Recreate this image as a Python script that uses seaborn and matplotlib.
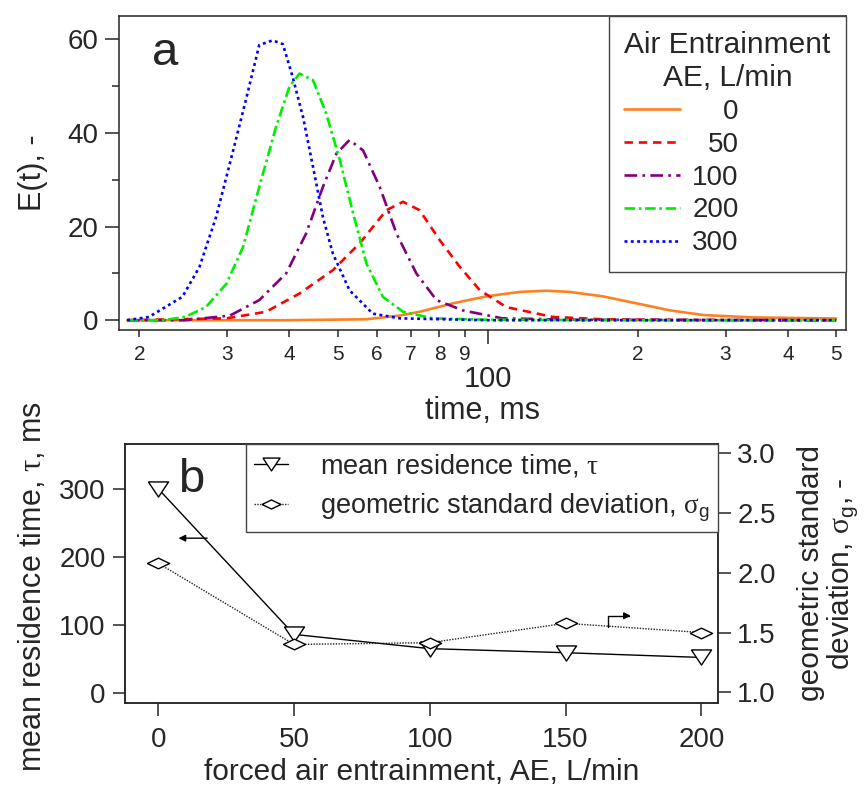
import matplotlib
matplotlib.use("Agg")
import matplotlib.pyplot as plt
from matplotlib.ticker import FixedLocator, FixedFormatter
import seaborn as sns
import pandas as pd

# E(t) curves, one set per air entrainment rate (L/min)
t_0 = [18.9, 40, 57.1, 66.6, 73, 85.1, 99.4, 116, 131, 146, 170, 199, 232, 271, 341, 500]
e_0 = [0, 0, 0.2, 1.0, 1.8, 3.6, 5.1, 6.05, 6.3, 6.05, 5.1, 3.6, 2.1, 1.1, 0.6, 0.36]
t_50 = [18.9, 29.9, 35.9, 41.9, 48.9, 55.3, 62.6, 67.6, 73.0, 80.1, 87.9, 96.4, 109, 135, 170, 250, 500]
e_50 = [0, 0.4, 1.8, 5.7, 10.7, 16.4, 23.5, 25.3, 23.5, 17.1, 11.4, 6.4, 2.8, 0.7, 0.2, 0.05, 0]
t_100 = [18.9, 24.7, 30.4, 34.8, 39.4, 43.2, 46.7, 49.7, 52.8, 56.2, 60.7, 65.6, 71.9, 78.9, 89.1, 107, 150, 500]
e_100 = [0, 0, 1, 4.3, 10, 18.5, 28.5, 35.6, 38.5, 36.3, 28.5, 18.5, 10, 4.3, 2.1, 0.4, 0.1, 0]
t_200 = [18.9, 22.3, 24.7, 27.2, 29.9, 32.3, 34.8, 37.6, 40.0, 41.9, 44.6, 47.4, 50.5, 53.7, 57.1, 61.6, 67.6, 77.6, 100, 200, 500]
e_200 = [0, 0, 0.7, 2.8, 7.8, 15.7, 28.5, 41.3, 49.9, 52.7, 51.3, 44.2, 34.2, 22.8, 12.1, 5, 1.8, 0.4, 0.1, 0, 0]
t_300 = [18.9, 20.9, 24.4, 26.4, 28.5, 30.8, 32.7, 34.8, 37.0, 38.8, 40.6, 42.6, 44.6, 46.7, 48.9, 52.8, 58.8, 66.6, 100, 200, 500]
e_300 = [0, 0.7, 5, 11.4, 22, 36, 47, 58.8, 59.8, 59, 52, 43.4, 32.8, 22, 14.2, 6.4, 1.4, 0.4, 0, 0, 0]

ae_levels = [0, 50, 100, 200, 300]
ae_labels = ["0", "50", "100", "200", "300"]

# panel b
ae_b = [0, 50, 100, 150, 200]
tau = [301, 86, 65, 59, 52]
sigma_g = [2.08, 1.40, 1.415, 1.577, 1.50]

x_minor_ticks = [20, 30, 40, 50, 60, 70, 80, 90, 200, 300, 400, 500]
x_minor_labels = ["2", "3", "4", "5", "6", "7", "8", "9", "2", "3", "4", "5"]

sns.set_style("ticks")
plt.rcParams["font.family"] = ["Liberation Sans", "DejaVu Sans"]
plt.rcParams["mathtext.fontset"] = "custom"
plt.rcParams["mathtext.rm"] = "Liberation Serif"
plt.rcParams["mathtext.sf"] = "Liberation Sans"
plt.rcParams["axes.linewidth"] = 1.1
for k in ["xtick.major.width", "ytick.major.width", "xtick.minor.width", "ytick.minor.width"]:
    plt.rcParams[k] = 1.1

frames = []
for lvl, t, e in zip(ae_levels, [t_0, t_50, t_100, t_200, t_300], [e_0, e_50, e_100, e_200, e_300]):
    frames.append(pd.DataFrame({"time": t, "E": e, "AE": lvl}))
df = pd.concat(frames, ignore_index=True)

palette = {0: "#FF8020", 50: "#FF0000", 100: "#800080", 200: "#00EE00", 300: "#0000FF"}
dashes = {0: "", 50: (3.2, 2.2), 100: (4.8, 2.0, 1.0, 2.0), 200: (4.0, 1.4, 1.0, 1.4), 300: (1.1, 1.3)}

fig = plt.figure(figsize=(8.64, 7.89), dpi=100)
ax = fig.add_axes([0.1377, 0.5817, 0.8413, 0.398])
sns.lineplot(data=df, x="time", y="E", hue="AE", style="AE", palette=palette, dashes=dashes,
             estimator=None, sort=True, linewidth=1.9, legend=False, ax=ax)

ax.set_xscale("log")
ax.set_xlim(18.2, 523)
ax.set_ylim(-2.1, 65)
ax.xaxis.set_major_locator(FixedLocator([100]))
ax.xaxis.set_major_formatter(FixedFormatter(["100"]))
ax.xaxis.set_minor_locator(FixedLocator(x_minor_ticks))
ax.xaxis.set_minor_formatter(FixedFormatter(x_minor_labels))
ax.tick_params(axis="x", which="major", length=10, pad=15, labelsize=21, direction="out")
ax.tick_params(axis="x", which="minor", length=5, pad=5.5, labelsize=15, direction="out")
ax.set_yticks([0, 20, 40, 60])
ax.set_yticks([10, 30, 50], minor=True)
ax.tick_params(axis="y", which="major", length=10, pad=5, labelsize=20)
ax.tick_params(axis="y", which="minor", length=5)
ax.set_xlabel("time, ms", fontsize=22, labelpad=2)
ax.set_ylabel("E(t), -", fontsize=22, labelpad=14)
for s in ax.spines.values():
    s.set_visible(True)
ax.text(0.045, 0.844, "a", transform=ax.transAxes, fontsize=34, va="baseline")

handles = ax.get_lines()[:5]
leg = ax.legend(handles, ae_labels, loc="upper right", bbox_to_anchor=(1, 1), borderaxespad=0,
                title="Air Entrainment\nAE, L/min", fontsize=20, title_fontsize=21.5,
                fancybox=False, edgecolor="#444444", framealpha=1, alignment="left",
                handlelength=2.0, handletextpad=0.45, labelspacing=0.25, borderpad=0.55)
leg.get_frame().set_linewidth(1.0)
leg.get_title().set_multialignment("center")
# right-align the numbers in the legend
fig.canvas.draw()
renderer = fig.canvas.get_renderer()
widths = [t.get_window_extent(renderer).width for t in leg.get_texts()]
for t, w in zip(leg.get_texts(), widths):
    t.set_position((max(widths) - w, 0))

# panel b
axb = fig.add_axes([0.1447, 0.109, 0.686, 0.3283])
axb2 = axb.twinx()
tri = [(-1, 0.75), (1, 0.75), (0, -0.75), (-1, 0.75)]
dia = [(-1, 0), (0, 0.48), (1, 0), (0, -0.48), (-1, 0)]
sns.lineplot(x=ae_b, y=tau, ax=axb, color="black", linewidth=1.0, marker=tri, markersize=14.5,
             markerfacecolor="white", markeredgecolor="black", markeredgewidth=1.0,
             label="mean residence time, $\\mathrm{\\tau}$", legend=False)
sns.lineplot(x=ae_b, y=sigma_g, ax=axb2, color="#222222", linewidth=1.0, linestyle=(0, (1, 1)),
             marker=dia, markersize=16, markerfacecolor="white", markeredgecolor="black",
             markeredgewidth=1.0, label="geometric standard deviation, $\\mathrm{\\sigma}_\\mathsf{g}$",
             legend=False)
axb.set_xlim(-12.2, 206)
axb.set_ylim(-15.2, 367)
axb2.set_ylim(0.91, 3.078)
axb.set_xticks([0, 50, 100, 150, 200])
axb.set_yticks([0, 100, 200, 300])
axb2.set_yticks([1.0, 1.5, 2.0, 2.5, 3.0])
axb2.set_yticklabels(["1.0", "1.5", "2.0", "2.5", "3.0"])
axb.tick_params(axis="x", length=9, pad=8, labelsize=20)
axb.tick_params(axis="y", length=9, pad=5, labelsize=20)
axb2.tick_params(axis="y", length=9, pad=5, labelsize=20)
axb.set_xlabel("forced air entrainment, AE, L/min", fontsize=21.5, labelpad=4)
axb.set_ylabel("mean residence time, $\\mathrm{\\tau}$, ms", fontsize=22)
axb.yaxis.set_label_coords(-0.13, 0.45)
axb2.set_ylabel("geometric standard\ndeviation, $\\mathrm{\\sigma}_\\mathsf{g}$, -", fontsize=21.5,
                labelpad=15, multialignment="center", linespacing=1.0)
for s in list(axb.spines.values()) + list(axb2.spines.values()):
    s.set_visible(True)
axb.text(0.089, 0.816, "b", transform=axb.transAxes, fontsize=34, va="baseline")

axb.annotate("", xy=(7.5, 228), xytext=(18, 228),
             arrowprops=dict(arrowstyle="-|>", color="black", lw=1.0, shrinkA=0, shrinkB=0,
                             mutation_scale=10))
axb2.annotate("", xy=(174, 1.64), xytext=(165.7, 1.548),
              arrowprops=dict(arrowstyle="-|>", color="black", lw=1.0, shrinkA=0, shrinkB=0,
                              mutation_scale=10, connectionstyle="angle,angleA=90,angleB=0,rad=0"))

hb = [axb.get_lines()[0], axb2.get_lines()[0]]
legb = axb2.legend(hb, [h.get_label() for h in hb], loc="upper right", bbox_to_anchor=(1, 1),
                   borderaxespad=0, fontsize=19.5, fancybox=False, edgecolor="#444444", framealpha=1,
                   handlelength=1.25, handletextpad=1.2, labelspacing=0.45, borderpad=0.3,
                   markerscale=0.85)
legb.get_frame().set_linewidth(1.0)

fig.savefig("out.png", dpi=100)
